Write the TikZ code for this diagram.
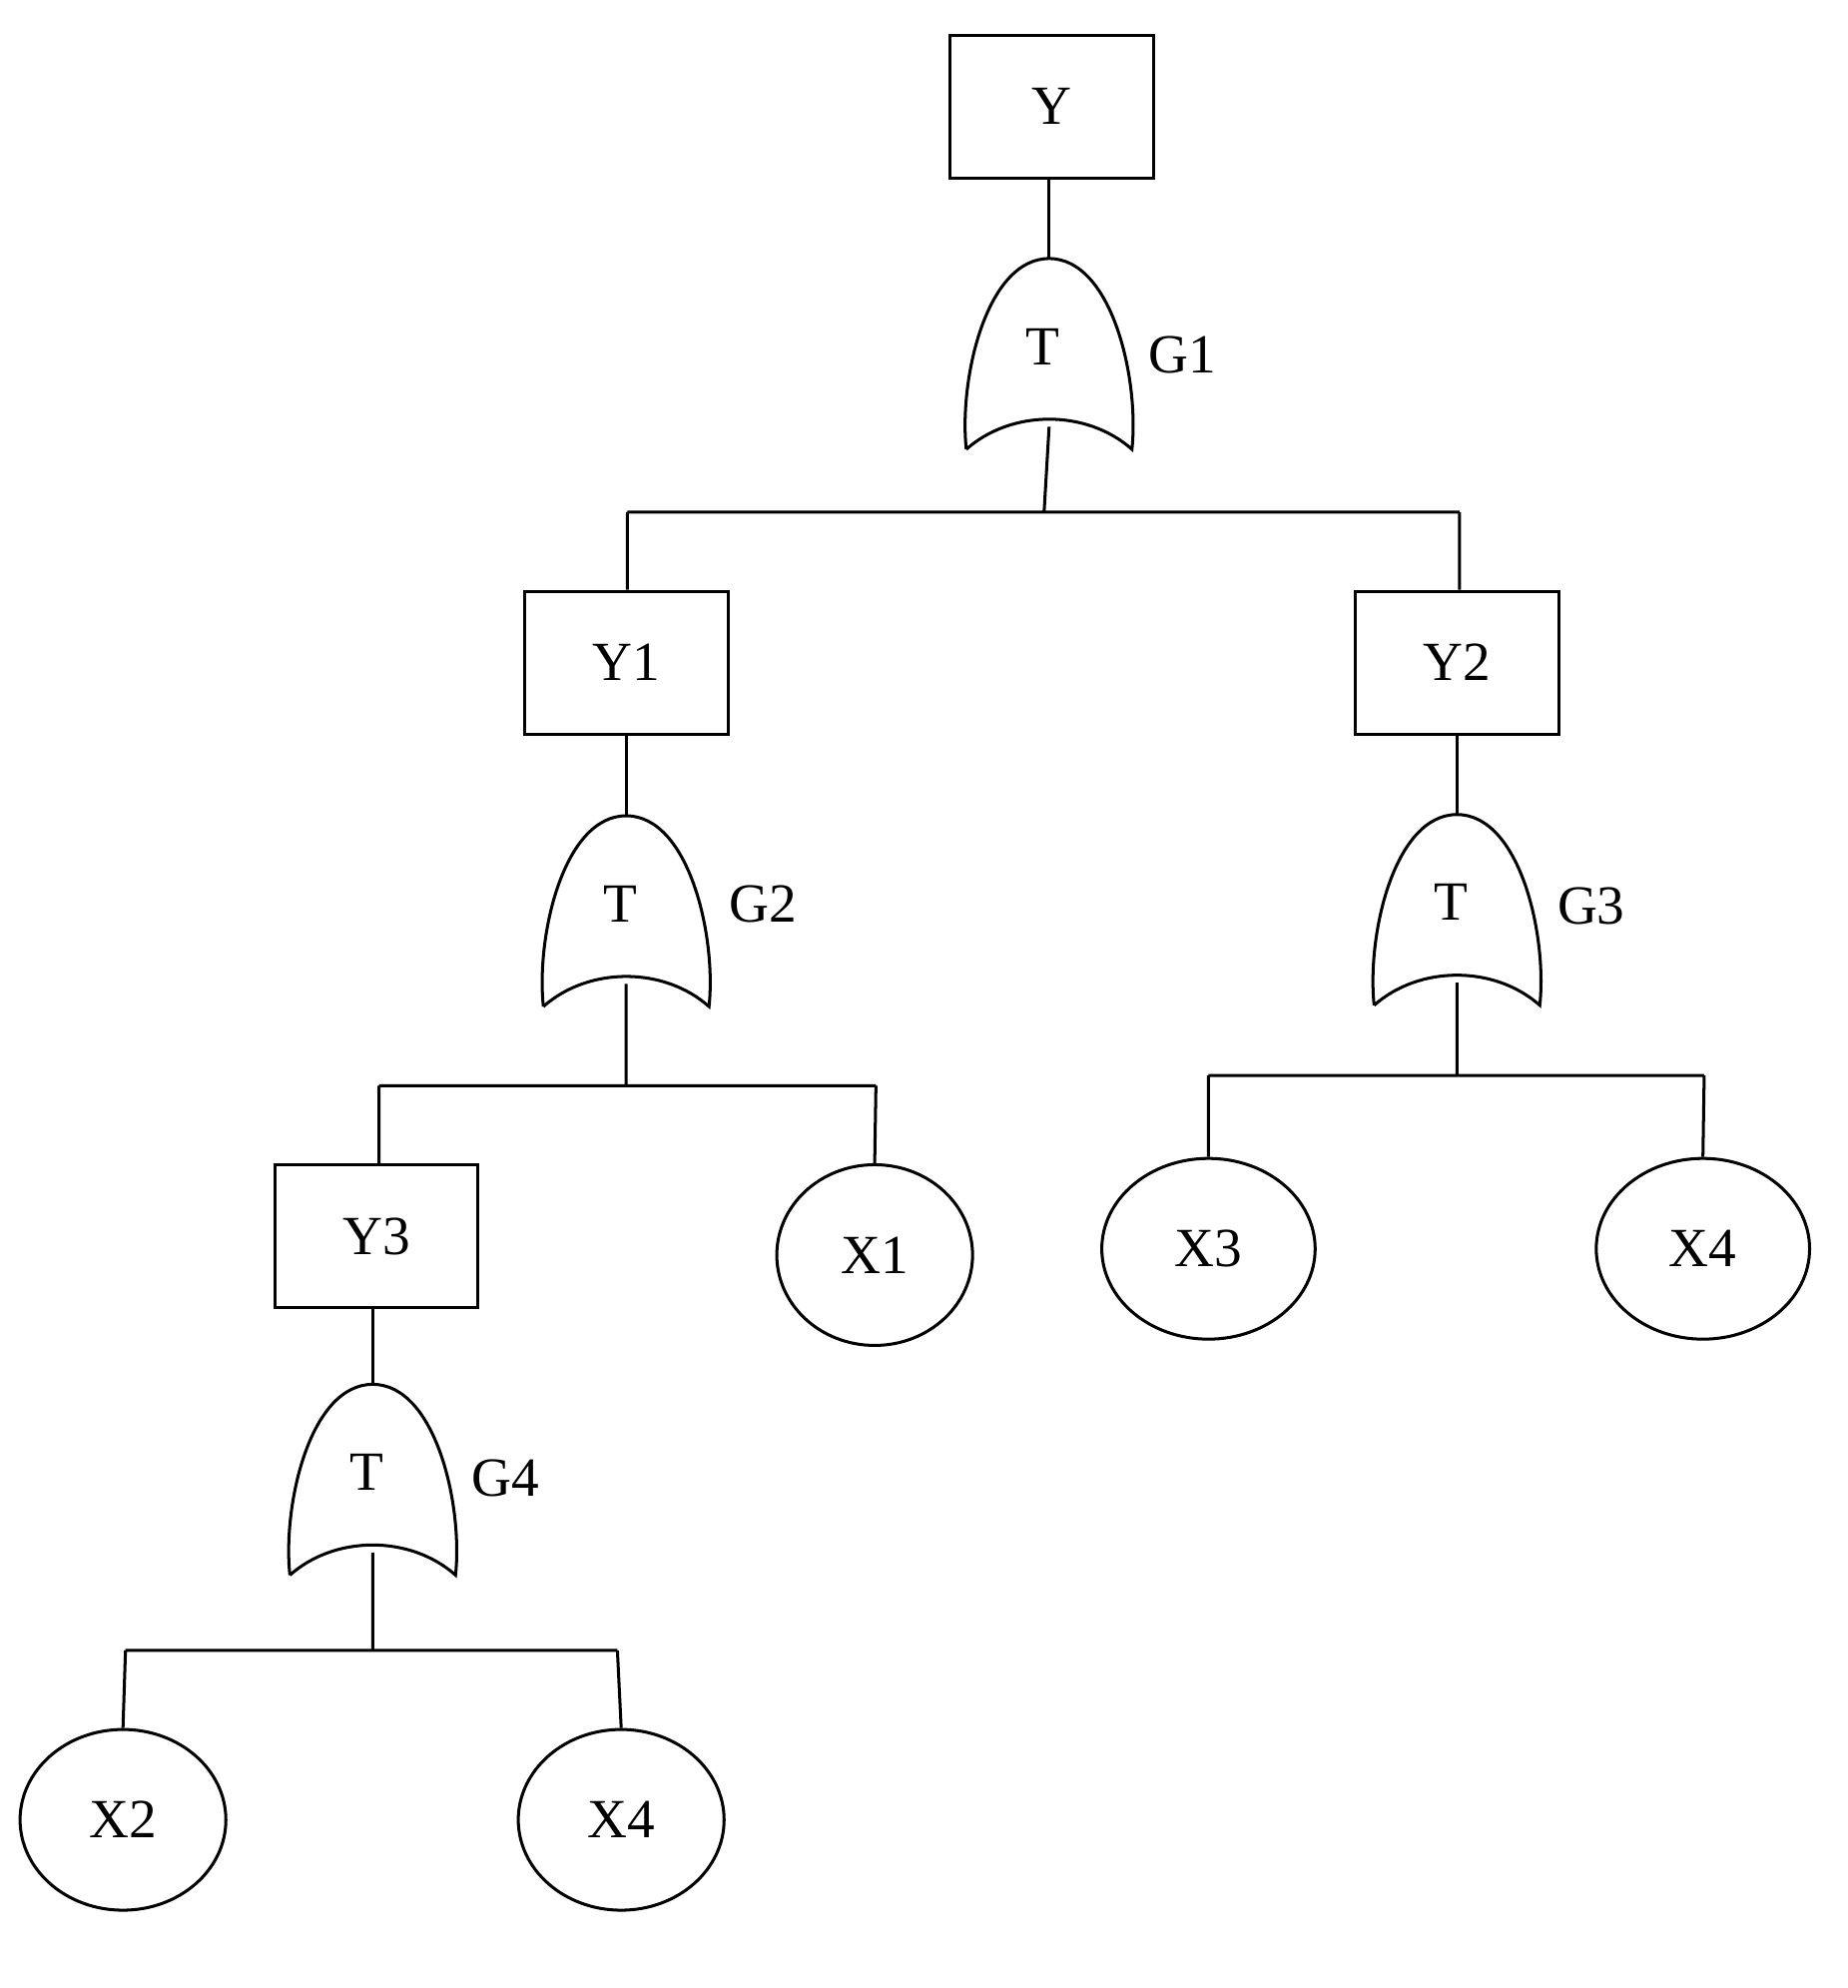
\documentclass[tikz,border=0pt]{standalone}
\usepackage{fontspec}
\setmainfont{Liberation Serif}
\usetikzlibrary{shapes.geometric}
\begin{document}
\begin{tikzpicture}[x=0.5pt,y=-0.5pt,line width=1.2pt,
  font=\fontsize{22}{26}\selectfont,
  box/.style={draw,minimum width=81pt,minimum height=57pt,inner sep=0pt},
  leaf/.style={draw,ellipse,inner sep=0pt},
  gate/.pic={\draw (-33,38) .. controls (-36,10) and (-25,-38) .. (0,-38)
     .. controls (25,-38) and (36,10) .. (33,38)
     .. controls (15,22) and (-15,22) .. (-33,38);}]
\useasboundingbox (0,0) rectangle (1472,1584);
% nodes
\node[box] (Y) at (838,85) {Y};
\node[box] (Y1) at (499,528) {Y1};
\node[box] (Y2) at (1161,528) {Y2};
\node[box] (Y3) at (300,985) {Y3};
\node[leaf,minimum width=78pt,minimum height=72pt] (X1) at (697,1000) {X1};
\node[leaf,minimum width=85pt,minimum height=72pt] (X3) at (963,995) {X3};
\node[leaf,minimum width=85pt,minimum height=72pt] (X4a) at (1357,995) {X4};
\node[leaf,minimum width=82pt,minimum height=72pt] (X2) at (98,1450) {X2};
\node[leaf,minimum width=82pt,minimum height=72pt] (X4b) at (495,1450) {X4};
% gates (center, top, bottom)
\foreach \n/\x/\y/\lx/\ly in {G1/836/282/942/283, G2/499/726/608/720, G3/1161/725/1268/722, G4/297/1179/403/1178}{
  \pic[scale=2] at (\x,\y) {gate};
  \node (\n T) at (\x-5,\y-6) {T};
  \node (\n L) at (\lx,\ly) {\n};
  \coordinate (\n top) at (\x,\y-76);
  \coordinate (\n bot) at (\x,\y+58);
}
% connectors
\coordinate (b1) at (832,408); \coordinate (b1l) at (500,408); \coordinate (b1r) at (1163,408);
\draw (Y.south -| G1top) -- (G1top);
\draw (G1bot) -- (b1) (b1l) -- (b1r) (b1l) -- (b1l |- Y1.north) (b1r) -- (b1r |- Y2.north);
\draw (Y1.south -| G2top) -- (G2top);
\coordinate (b2) at (499,865); \coordinate (b2l) at (302,865); \coordinate (b2r) at (698,865);
\draw (G2bot) -- (b2) (b2l) -- (b2r) (b2l) -- (b2l |- Y3.north) (b2r) -- (X1.north);
\draw (Y2.south -| G3top) -- (G3top);
\coordinate (b3) at (1161,857); \coordinate (b3l) at (963,857); \coordinate (b3r) at (1358,857);
\draw (G3bot) -- (b3) (b3l) -- (b3r) (b3l) -- (X3.north) (b3r) -- (X4a.north);
\draw (Y3.south -| G4top) -- (G4top);
\coordinate (b4) at (297,1315); \coordinate (b4l) at (100,1315); \coordinate (b4r) at (492,1315);
\draw (G4bot) -- (b4) (b4l) -- (b4r) (b4l) -- (X2.north) (b4r) -- (X4b.north);
\end{tikzpicture}
\end{document}
